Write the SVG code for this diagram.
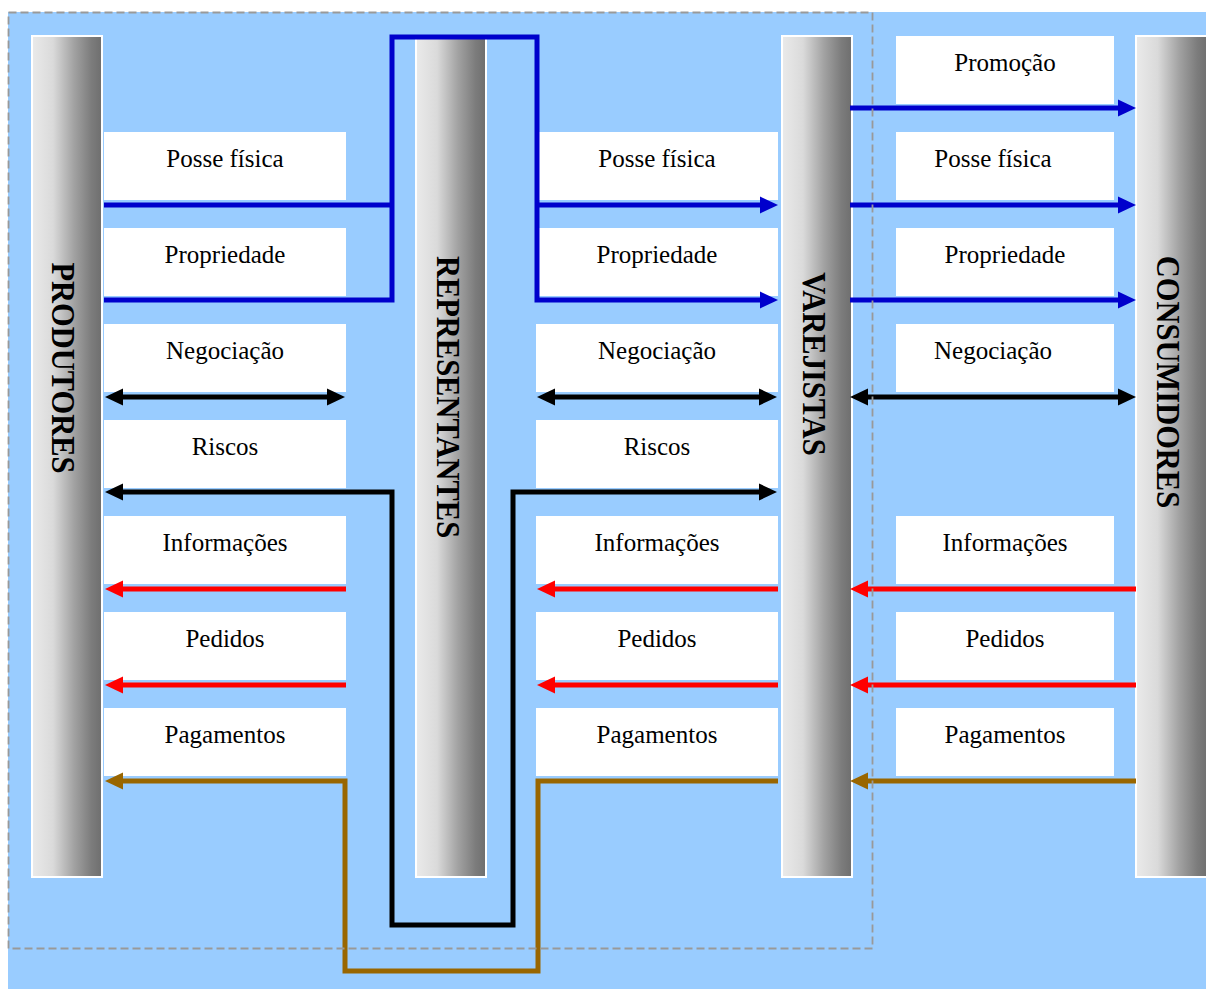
<svg xmlns="http://www.w3.org/2000/svg" width="1206" height="989" viewBox="0 0 1206 989">
  <defs>
    <linearGradient id="bar" x1="0" y1="0" x2="1" y2="0">
      <stop offset="0" stop-color="#EAEAEA"/>
      <stop offset="0.3" stop-color="#DADADA"/>
      <stop offset="0.6" stop-color="#A2A2A2"/>
      <stop offset="0.85" stop-color="#7C7C7C"/>
      <stop offset="1" stop-color="#6E6E6E"/>
    </linearGradient>
    <marker id="ah-blue" markerUnits="userSpaceOnUse" markerWidth="18" markerHeight="18" viewBox="0 0 18 18" refX="9" refY="9" orient="auto-start-reverse"><path d="M0,0.5 L18,9 L0,17.5 z" fill="#0000CC"/></marker>
    <marker id="ah-black" markerUnits="userSpaceOnUse" markerWidth="18" markerHeight="18" viewBox="0 0 18 18" refX="9" refY="9" orient="auto-start-reverse"><path d="M0,0.5 L18,9 L0,17.5 z" fill="#000000"/></marker>
    <marker id="ah-red" markerUnits="userSpaceOnUse" markerWidth="18" markerHeight="18" viewBox="0 0 18 18" refX="9" refY="9" orient="auto-start-reverse"><path d="M0,0.5 L18,9 L0,17.5 z" fill="#FF0000"/></marker>
    <marker id="ah-brown" markerUnits="userSpaceOnUse" markerWidth="18" markerHeight="18" viewBox="0 0 18 18" refX="9" refY="9" orient="auto-start-reverse"><path d="M0,0.5 L18,9 L0,17.5 z" fill="#996600"/></marker>
  </defs>
  <style>
    .bg { fill: #99CCFF; }
    .frame { fill: none; stroke: #999999; stroke-width: 1.8; stroke-dasharray: 8 4; }
    .bar { fill: url(#bar); stroke: #FFFFFF; stroke-width: 2; }
    .bar-label { font-family: "Liberation Serif", "Times New Roman", serif; font-size: 33.5px; font-weight: bold; fill: #000; text-anchor: middle; }
    .box { fill: #FFFFFF; }
    .lbl { font-family: "Liberation Serif", "Times New Roman", serif; font-size: 25px; fill: #000; text-anchor: middle; }
    .ln { fill: none; stroke-width: 5; stroke-linejoin: miter; }
    .blue { stroke: #0000CC; }
    .black { stroke: #000000; }
    .red { stroke: #FF0000; }
    .brown { stroke: #996600; }
  </style>

  <!-- background -->
  <rect class="bg" x="8" y="12" width="1198" height="977"/>

  <!-- channel columns (labels run top to bottom, slightly condensed) -->
  <g id="produtores">
    <rect class="bar" x="32" y="36" width="70" height="841"/>
    <text class="bar-label" transform="translate(63.5,368) rotate(90) scale(0.91,1)" y="11">PRODUTORES</text>
  </g>
  <g id="representantes">
    <rect class="bar" x="416" y="36" width="70" height="841"/>
    <text class="bar-label" transform="translate(448.5,397) rotate(90) scale(0.91,1)" y="11">REPRESENTANTES</text>
  </g>
  <g id="varejistas">
    <rect class="bar" x="782" y="36" width="70" height="841"/>
    <text class="bar-label" transform="translate(814.5,364) rotate(90) scale(0.91,1)" y="11">VAREJISTAS</text>
  </g>
  <g id="consumidores">
    <rect class="bar" x="1136" y="36" width="72" height="841"/>
    <text class="bar-label" transform="translate(1168.5,382) rotate(90) scale(0.91,1)" y="11">CONSUMIDORES</text>
  </g>

  <!-- flow labels: produtores / representantes -->
  <g id="l-posse"><rect class="box" x="104" y="132" width="242" height="68"/><text class="lbl" x="225" y="167">Posse física</text></g>
  <g id="l-propriedade"><rect class="box" x="104" y="228" width="242" height="68"/><text class="lbl" x="225" y="263">Propriedade</text></g>
  <g id="l-negociacao"><rect class="box" x="104" y="324" width="242" height="68"/><text class="lbl" x="225" y="359">Negociação</text></g>
  <g id="l-riscos"><rect class="box" x="104" y="420" width="242" height="68"/><text class="lbl" x="225" y="455">Riscos</text></g>
  <g id="l-informacoes"><rect class="box" x="104" y="516" width="242" height="68"/><text class="lbl" x="225" y="551">Informações</text></g>
  <g id="l-pedidos"><rect class="box" x="104" y="612" width="242" height="68"/><text class="lbl" x="225" y="647">Pedidos</text></g>
  <g id="l-pagamentos"><rect class="box" x="104" y="708" width="242" height="68"/><text class="lbl" x="225" y="743">Pagamentos</text></g>

  <!-- flow labels: representantes / varejistas -->
  <g id="m-posse"><rect class="box" x="536" y="132" width="242" height="68"/><text class="lbl" x="657" y="167">Posse física</text></g>
  <g id="m-propriedade"><rect class="box" x="536" y="228" width="242" height="68"/><text class="lbl" x="657" y="263">Propriedade</text></g>
  <g id="m-negociacao"><rect class="box" x="536" y="324" width="242" height="68"/><text class="lbl" x="657" y="359">Negociação</text></g>
  <g id="m-riscos"><rect class="box" x="536" y="420" width="242" height="68"/><text class="lbl" x="657" y="455">Riscos</text></g>
  <g id="m-informacoes"><rect class="box" x="536" y="516" width="242" height="68"/><text class="lbl" x="657" y="551">Informações</text></g>
  <g id="m-pedidos"><rect class="box" x="536" y="612" width="242" height="68"/><text class="lbl" x="657" y="647">Pedidos</text></g>
  <g id="m-pagamentos"><rect class="box" x="536" y="708" width="242" height="68"/><text class="lbl" x="657" y="743">Pagamentos</text></g>

  <!-- flow labels: varejistas / consumidores -->
  <g id="r-promocao"><rect class="box" x="896" y="36" width="218" height="68"/><text class="lbl" x="1005" y="71">Promoção</text></g>
  <g id="r-posse"><rect class="box" x="896" y="132" width="218" height="68"/><text class="lbl" x="993" y="167">Posse física</text></g>
  <g id="r-propriedade"><rect class="box" x="896" y="228" width="218" height="68"/><text class="lbl" x="1005" y="263">Propriedade</text></g>
  <g id="r-negociacao"><rect class="box" x="896" y="324" width="218" height="68"/><text class="lbl" x="993" y="359">Negociação</text></g>
  <g id="r-informacoes"><rect class="box" x="896" y="516" width="218" height="68"/><text class="lbl" x="1005" y="551">Informações</text></g>
  <g id="r-pedidos"><rect class="box" x="896" y="612" width="218" height="68"/><text class="lbl" x="1005" y="647">Pedidos</text></g>
  <g id="r-pagamentos"><rect class="box" x="896" y="708" width="218" height="68"/><text class="lbl" x="1005" y="743">Pagamentos</text></g>

  <!-- flows -->
  <g id="connectors">
    <!-- posse física / propriedade (blue) -->
    <path class="ln blue" d="M104,205 H392"/>
    <path class="ln blue" d="M104,300 H392 V37 H537 V300 H769" marker-end="url(#ah-blue)"/>
    <path class="ln blue" d="M537,205 H769" marker-end="url(#ah-blue)"/>
    <path class="ln blue" d="M850,108 H1127" marker-end="url(#ah-blue)"/>
    <path class="ln blue" d="M850,205 H1127" marker-end="url(#ah-blue)"/>
    <path class="ln blue" d="M850,300 H1127" marker-end="url(#ah-blue)"/>

    <!-- negociação / riscos (black) -->
    <path class="ln black" d="M114,397 H336" marker-start="url(#ah-black)" marker-end="url(#ah-black)"/>
    <path class="ln black" d="M546,397 H768" marker-start="url(#ah-black)" marker-end="url(#ah-black)"/>
    <path class="ln black" d="M859,397 H1127" marker-start="url(#ah-black)" marker-end="url(#ah-black)"/>
    <path class="ln black" d="M114,492 H392 V925 H513 V492 H768" marker-start="url(#ah-black)" marker-end="url(#ah-black)"/>

    <!-- informações / pedidos (red) -->
    <path class="ln red" d="M346,589 H114" marker-end="url(#ah-red)"/>
    <path class="ln red" d="M346,685 H114" marker-end="url(#ah-red)"/>
    <path class="ln red" d="M778,589 H546" marker-end="url(#ah-red)"/>
    <path class="ln red" d="M778,685 H546" marker-end="url(#ah-red)"/>
    <path class="ln red" d="M1136,589 H859" marker-end="url(#ah-red)"/>
    <path class="ln red" d="M1136,685 H859" marker-end="url(#ah-red)"/>

    <!-- pagamentos (brown) -->
    <path class="ln brown" d="M778,781 H538 V971 H345 V781 H114" marker-end="url(#ah-brown)"/>
    <path class="ln brown" d="M1136,781 H859" marker-end="url(#ah-brown)"/>
  </g>

  <!-- dashed grouping frame -->
  <rect class="frame" x="8.5" y="12.5" width="864" height="936"/>
</svg>
